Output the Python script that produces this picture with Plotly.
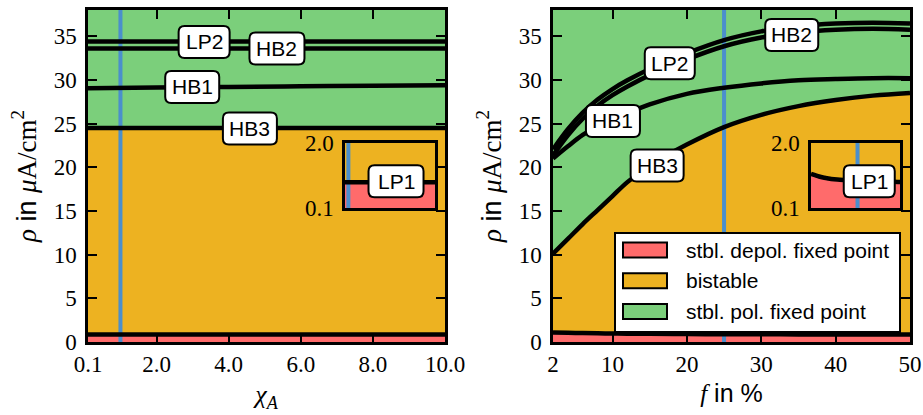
import plotly.graph_objects as go

# ---------------- data ----------------
chi_A = [0.1, 2.0, 4.0, 6.0, 8.0, 10.0]
chi_LP1 = [0.85, 0.85, 0.85, 0.85, 0.85, 0.85]
chi_HB3 = [24.5, 24.5, 24.5, 24.5, 24.5, 24.5]
chi_HB1 = [29.05, 29.12, 29.2, 29.27, 29.34, 29.4]
chi_HB2 = [33.6, 33.6, 33.6, 33.6, 33.6, 33.6]
chi_LP2 = [34.4, 34.4, 34.4, 34.4, 34.4, 34.4]

f_pct = [2, 4, 6, 8, 10, 12, 15, 20, 25, 30, 35, 40, 45, 50]
f_LP1 = [1.10, 1.06, 1.02, 0.99, 0.97, 0.95, 0.93, 0.91, 0.89, 0.88, 0.87, 0.87, 0.86, 0.86]
f_HB3 = [10.1, 11.8, 13.5, 15.1, 16.7, 18.3, 20.2, 22.6, 24.6, 26.0, 27.0, 27.7, 28.2, 28.5]
f_HB1 = [21.0, 22.4, 23.7, 24.7, 25.5, 26.2, 27.2, 28.4, 29.1, 29.6, 29.95, 30.1, 30.2, 30.2]
f_HB2 = [21.35, 23.65, 25.55, 27.05, 28.25, 29.25, 30.55, 32.35, 33.85, 34.85, 35.45, 35.75, 35.85, 35.75]
f_LP2 = [22.05, 24.35, 26.25, 27.75, 28.95, 29.95, 31.25, 33.05, 34.55, 35.55, 36.15, 36.45, 36.55, 36.45]

chi_A_marker = 1.0
f_marker = 25

x_left_ticks = [0.1, 2, 4, 6, 8, 10]
x_left_ticktext = ["0.1", "2.0", "4.0", "6.0", "8.0", "10.0"]
x_right_ticks = [2, 10, 20, 30, 40, 50]
y_ticks = [0, 5, 10, 15, 20, 25, 30, 35]
inset_y_ticks = [0.1, 2.0]
inset_y_ticktext = ["0.1", "2.0"]
region_labels = ["stbl. depol. fixed point", "bistable", "stbl. pol. fixed point"]

# ---------------- style ----------------
W, H = 923, 415
PINK = "#FF6B6B"
ORANGE = "#EDB221"
GREEN = "#7BCF7B"
BLUE = "#4B8FCC"
SANS = "Liberation Sans, Arial, sans-serif"
SERIF = "Liberation Serif, Times New Roman, DejaVu Serif, serif"
Y_MIN, Y_MAX = 0, 38
INSET_Y = [0.1, 2.0]


def px(xp):
    return xp / W


def py(yp):
    return 1 - yp / H


fig = go.Figure()


def add_regions(xs, lp1, hb3, xa, ya, lo, hi, with_green=True):
    base = [lo] * len(xs)
    top = [hi] * len(xs)
    common = dict(mode="lines", line=dict(width=0, shape="spline"), showlegend=False,
                  hoverinfo="skip", xaxis=xa, yaxis=ya)
    fig.add_trace(go.Scatter(x=xs, y=base, **common))
    fig.add_trace(go.Scatter(x=xs, y=lp1, fill="tonexty", fillcolor=PINK, **common))
    if with_green:
        fig.add_trace(go.Scatter(x=xs, y=hb3, fill="tonexty", fillcolor=ORANGE, **common))
        fig.add_trace(go.Scatter(x=xs, y=top, fill="tonexty", fillcolor=GREEN, **common))
    else:
        fig.add_trace(go.Scatter(x=xs, y=top, fill="tonexty", fillcolor=ORANGE, **common))


def add_marker_line(v, xa, ya, lo, hi):
    fig.add_trace(go.Scatter(x=[v, v], y=[lo, hi], mode="lines", line=dict(color=BLUE, width=4),
                             showlegend=False, hoverinfo="skip", xaxis=xa, yaxis=ya))


def add_curve(xs, ys, xa, ya):
    fig.add_trace(go.Scatter(x=xs, y=ys, mode="lines", line=dict(color="black", width=4.5, shape="spline"),
                             showlegend=False, hoverinfo="skip", xaxis=xa, yaxis=ya))


# left main
add_regions(chi_A, chi_LP1, chi_HB3, "x", "y", Y_MIN, Y_MAX)
add_marker_line(chi_A_marker, "x", "y", Y_MIN, Y_MAX)
for c in (chi_LP1, chi_HB3, chi_HB1, chi_HB2, chi_LP2):
    add_curve(chi_A, c, "x", "y")

# right main
add_regions(f_pct, f_LP1, f_HB3, "x2", "y2", Y_MIN, Y_MAX)
add_marker_line(f_marker, "x2", "y2", Y_MIN, Y_MAX)
for c in (f_LP1, f_HB3, f_HB1, f_HB2, f_LP2):
    add_curve(f_pct, c, "x2", "y2")

# left inset
add_regions(chi_A, chi_LP1, None, "x3", "y3", -1, 3, with_green=False)
add_marker_line(chi_A_marker, "x3", "y3", -1, 3)
add_curve(chi_A, chi_LP1, "x3", "y3")

# right inset
add_regions(f_pct, f_LP1, None, "x4", "y4", -1, 3, with_green=False)
add_marker_line(f_marker, "x4", "y4", -1, 3)
add_curve(f_pct, f_LP1, "x4", "y4")

tickfont = dict(family=SERIF, size=23, color="black")
axis_common = dict(showline=True, linecolor="black", linewidth=2.5, mirror="ticks", ticks="inside",
                   ticklen=9, tickwidth=1.5, tickcolor="black", showgrid=False, zeroline=False,
                   tickfont=tickfont, automargin=False)
xstand = dict(ticklabelstandoff=0)
ystand = dict(ticklabelstandoff=4)

serif_span = '<span style="font-family:Liberation Serif, Times New Roman, serif">'
ytitle = (serif_span + '<i>ρ</i></span> in ' + serif_span + '<i>μ</i>A/cm<sup>2</sup></span>')
y_dom = [py(342), py(10)]
inset_dom = [py(208), py(143)]
inset_x_common = dict(showline=True, linecolor="black", linewidth=2.5, mirror=True, ticks="",
                      showticklabels=False, showgrid=False, zeroline=False, automargin=False)

fig.update_layout(
    template="none",
    width=W, height=H, margin=dict(l=0, r=0, t=0, b=0, autoexpand=False),
    paper_bgcolor="white", plot_bgcolor="rgba(0,0,0,0)",
    showlegend=False,
    font=dict(family=SANS, size=21, color="black"),
    xaxis=dict(domain=[px(88), px(445)], range=[0.1, 10], anchor="y", tickvals=x_left_ticks,
               ticktext=x_left_ticktext,
               title=dict(text='<i>χ</i><sub><i>A</i></sub>', font=dict(family=SERIF, size=26), standoff=9),
               **axis_common, **xstand),
    yaxis=dict(domain=y_dom, range=[Y_MIN, Y_MAX], anchor="x", tickvals=y_ticks,
               title=dict(text=ytitle, font=dict(family=SANS, size=27), standoff=10),
               **axis_common, **ystand),
    xaxis2=dict(domain=[px(553), px(910)], range=[2, 50], anchor="y2", tickvals=x_right_ticks,
                title=dict(text=serif_span + '<i>f</i></span> in %', font=dict(family=SANS, size=25),
                           standoff=9),
                **axis_common, **xstand),
    yaxis2=dict(domain=y_dom, range=[Y_MIN, Y_MAX], anchor="x2", tickvals=y_ticks,
                title=dict(text=ytitle, font=dict(family=SANS, size=27), standoff=10),
                **axis_common, **ystand),
    xaxis3=dict(domain=[px(345), px(435)], range=[0.65, 10], anchor="y3", **inset_x_common),
    yaxis3=dict(domain=inset_dom, range=INSET_Y, anchor="x3", tickvals=inset_y_ticks,
                ticktext=inset_y_ticktext, **axis_common, **ystand),
    xaxis4=dict(domain=[px(811), px(900)], range=[2, 46], anchor="y4", **inset_x_common),
    yaxis4=dict(domain=inset_dom, range=INSET_Y, anchor="x4", tickvals=inset_y_ticks,
                ticktext=inset_y_ticktext, **axis_common, **ystand),
)


def rbox(w, h, r=6):
    x0, x1, y0, y1 = -w / 2, w / 2, -h / 2, h / 2
    return (f"M{x0 + r},{y0} L{x1 - r},{y0} Q{x1},{y0} {x1},{y0 + r} L{x1},{y1 - r} "
            f"Q{x1},{y1} {x1 - r},{y1} L{x0 + r},{y1} Q{x0},{y1} {x0},{y1 - r} "
            f"L{x0},{y0 + r} Q{x0},{y0} {x0 + r},{y0} Z")


labels = [
    ("LP2", "x", "y", 3.32, 34.35, 51),
    ("HB2", "x", "y", 5.34, 33.58, 55),
    ("HB1", "x", "y", 2.99, 29.2, 54),
    ("HB3", "x", "y", 4.59, 24.45, 54),
    ("LP1", "x3", "y3", 5.95, 0.88, 55),
    ("HB2", "x2", "y2", 34.1, 35.15, 53),
    ("LP2", "x2", "y2", 17.7, 31.9, 50),
    ("HB1", "x2", "y2", 10.06, 25.3, 54),
    ("HB3", "x2", "y2", 16.0, 20.2, 53),
    ("LP1", "x4", "y4", 30.8, 0.88, 51),
]
shapes = []
annotations = []
for txt, xa, ya, xv, yv, w in labels:
    shapes.append(dict(type="path", xref=xa, yref=ya, xsizemode="pixel", ysizemode="pixel",
                       xanchor=xv, yanchor=yv, path=rbox(w, 32), fillcolor="white",
                       line=dict(color="black", width=2), layer="above"))
    annotations.append(dict(x=xv, y=yv, xref=xa, yref=ya, text=txt, showarrow=False,
                            font=dict(family=SANS, size=21, color="black")))

# legend (drawn in paper coordinates)
shapes.append(dict(type="rect", xref="paper", yref="paper", x0=px(615), x1=px(900), y0=py(332), y1=py(233),
                   fillcolor="white", line=dict(color="black", width=2), layer="above"))
for i, (lab, col) in enumerate(zip(region_labels, [PINK, ORANGE, GREEN])):
    yc = 250 + 30.7 * i
    shapes.append(dict(type="rect", xref="paper", yref="paper", x0=px(623), x1=px(667),
                       y0=py(yc + 7.5), y1=py(yc - 7.5), fillcolor=col,
                       line=dict(color="black", width=2), layer="above"))
    annotations.append(dict(x=px(684), y=py(yc), xref="paper", yref="paper", text=lab, showarrow=False,
                            xanchor="left", yanchor="middle", font=dict(family=SANS, size=21, color="black")))

fig.update_layout(shapes=shapes, annotations=annotations)
fig.write_html("out.html", config={"displayModeBar": False},
               post_script="document.body.style.margin='0px';")
